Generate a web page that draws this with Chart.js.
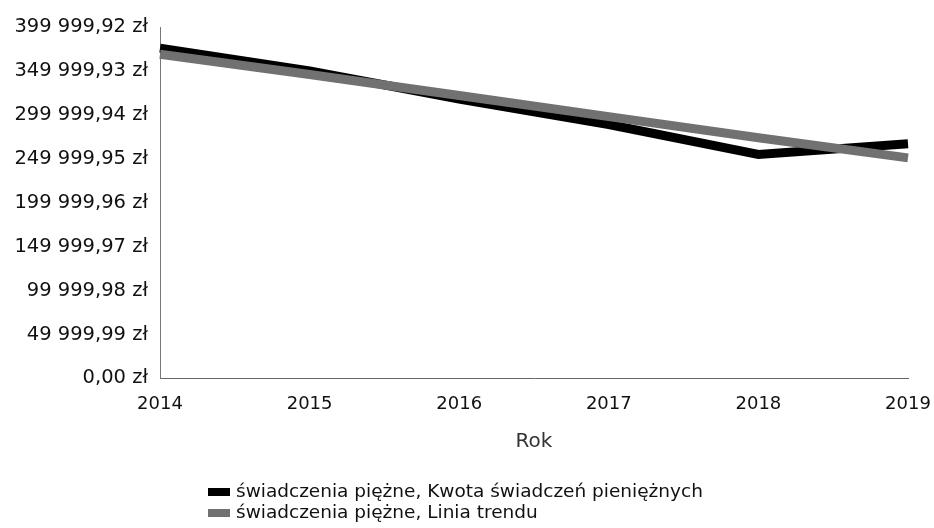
<!DOCTYPE html>
<html><head><meta charset="utf-8">
<script src="https://cdn.jsdelivr.net/npm/chart.js@4"></script>
<style>html,body{margin:0;padding:0;background:#fff}#wrap{width:934px;height:528px}</style>
</head><body><div id="wrap"><canvas id="c" width="934" height="528"></canvas></div>
<script>
const years = ['2014', '2015', '2016', '2017', '2018', '2019'];
const amounts = [376000, 350000, 318000, 289000, 255000, 267000];
const trend = [369000, 346000, 322000, 298000, 274000, 251000];
const yTickValues = [0, 49999.99, 99999.98, 149999.97, 199999.96, 249999.95, 299999.94, 349999.93, 399999.92];
const yTickLabels = ['0,00 zł', '49 999,99 zł', '99 999,98 zł', '149 999,97 zł', '199 999,96 zł', '249 999,95 zł', '299 999,94 zł', '349 999,93 zł', '399 999,92 zł'];
const seriesLabels = ['świadczenia piężne, Kwota świadczeń pieniężnych', 'świadczenia piężne, Linia trendu'];
const xTitle = 'Rok';

const FONT = '"DejaVu Sans", Verdana, sans-serif';

const stackedLegend = {
  id: 'stackedLegend',
  afterDraw(chart) {
    const ctx = chart.ctx;
    ctx.save();
    ctx.font = '18.5px ' + FONT;
    ctx.textBaseline = 'middle';
    ctx.textAlign = 'left';
    chart.data.datasets.forEach((ds, i) => {
      const y = 492 + i * 21;
      ctx.fillStyle = ds.borderColor;
      ctx.fillRect(208, y - 4, 22, 8);
      ctx.fillStyle = '#111';
      ctx.fillText(ds.label, 236, y);
    });
    ctx.restore();
  }
};

new Chart(document.getElementById('c'), {
  type: 'line',
  data: {
    labels: years,
    datasets: [
      { label: seriesLabels[0], data: amounts, borderColor: '#000000', backgroundColor: '#000000', borderWidth: 9, pointRadius: 0, tension: 0, order: 1, borderCapStyle: 'butt', borderJoinStyle: 'miter' },
      { label: seriesLabels[1], data: trend, borderColor: '#717171', backgroundColor: '#717171', borderWidth: 9, pointRadius: 0, tension: 0, order: 0, borderCapStyle: 'butt' }
    ]
  },
  options: {
    responsive: false,
    animation: false,
    devicePixelRatio: 1,
    layout: { padding: { left: 0, right: 26, top: 27, bottom: 71 } },
    plugins: { legend: { display: false }, tooltip: { enabled: false } },
    scales: {
      x: {
        offset: false,
        afterFit: s => { s.paddingRight = 0; s.paddingLeft = 0; },
        grid: { display: false, drawTicks: false },
        border: { display: true, color: '#666', width: 1, dash: [2, 1] },
        ticks: { color: '#111', font: { family: FONT, size: 18 }, padding: 15, maxRotation: 0, autoSkip: false },
        title: { display: true, text: xTitle, color: '#333', font: { family: FONT, size: 20 }, padding: { top: 0, bottom: 3 } }
      },
      y: {
        min: 0,
        max: 399999.92,
        afterBuildTicks: s => { s.ticks = yTickValues.map(v => ({ value: v })); },
        afterFit: s => { s.width = 160; },
        grid: { display: false, drawTicks: false },
        border: { display: true, color: '#777', width: 1, dash: [2, 1] },
        ticks: { color: '#111', font: { family: FONT, size: 19.5 }, padding: 12, callback: (v, i) => yTickLabels[i] }
      }
    }
  },
  plugins: [stackedLegend]
});
</script></body></html>
